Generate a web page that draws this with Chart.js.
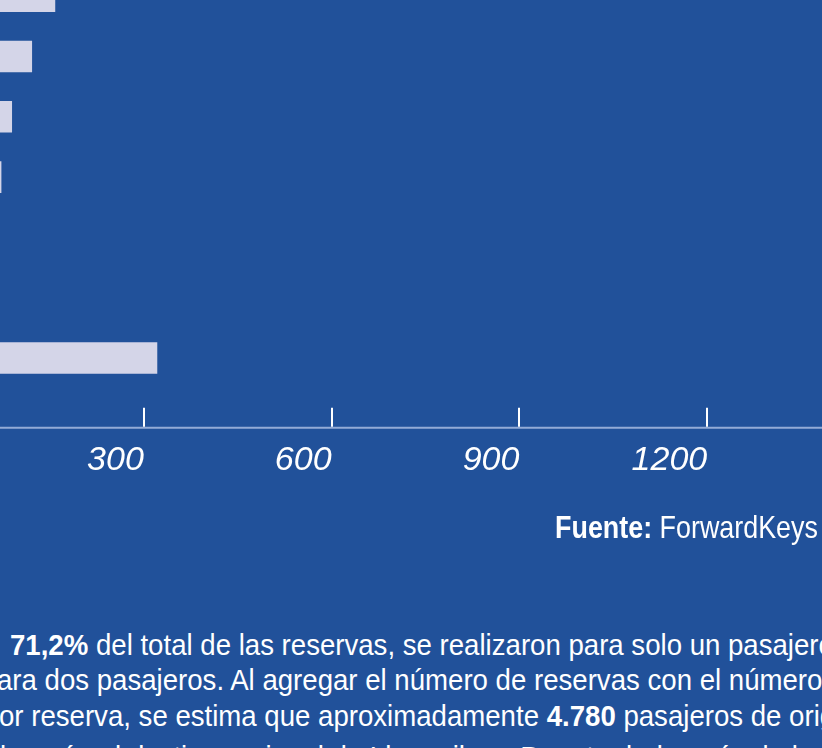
<!DOCTYPE html>
<html>
<head>
<meta charset="utf-8">
<script src="https://cdn.jsdelivr.net/npm/chart.js@4"></script>
<style>
  html, body { margin: 0; padding: 0; }
  body {
    width: 822px; height: 748px; overflow: hidden; position: relative;
    background: #21519a; color: #fff;
    font-family: 'Liberation Sans', Arial, sans-serif;
  }
  #chart { position: absolute; left: -44px; top: -34px; }
  .fuente {
    position: absolute; right: 4px; top: 511px; font-size: 32px; line-height: 32px;
    white-space: nowrap; transform: scaleX(0.84); transform-origin: right center;
  }
  .linea {
    position: absolute; font-size: 30px; line-height: 35px; white-space: nowrap;
    transform: scaleX(0.92); transform-origin: left center;
  }
  .pre { position: absolute; right: 100%; }
</style>
</head>
<body>
<canvas id="chart" width="939" height="567"></canvas>

<div class="fuente"><b>Fuente:</b> ForwardKeys</div>

<div class="linea" style="left:10px; top:627px;"><span class="pre" style="margin-right:4px;">El&nbsp;</span><b>71,2%</b> del total de las reservas, se realizaron para solo un pasajero, y</div>
<div class="linea" style="left:-3px; top:662px;"><span class="pre">un 17,5% p</span>ara dos pasajeros. Al agregar el número de reservas con el número</div>
<div class="linea" style="left:-1px; top:698px;"><span class="pre">de pasajeros p</span>or reserva, se estima que aproximadamente <b>4.780</b> pasajeros de origen</div>
<div class="linea" style="left:0px; top:739px;"><span class="pre">extranjero l</span>legarán al destino regional de Llanquihue. Por otro lado, más de la mitad de los pasajeros llegará</div>

<script>
    // reservas por categoría (de arriba hacia abajo)
    const categorias = ['Cat. 1', 'Cat. 2', 'Cat. 3', 'Cat. 4', 'Cat. 5', 'Cat. 6', 'Cat. 7'];
    const valores = [158, 121, 89, 72, 45, 30, 321];
    const ticksEje = [300, 600, 900, 1200];

    // eje con marcas hacia arriba, separado un poco de las barras
    const ejePlugin = {
        id: 'eje',
        afterDraw(chart) {
            const ctx = chart.ctx;
            const area = chart.chartArea;
            const x = chart.scales.x;
            const yEje = area.bottom + 39.5;
            ctx.save();
            ctx.strokeStyle = '#93abd6';
            ctx.lineWidth = 2;
            ctx.beginPath();
            ctx.moveTo(area.left, yEje);
            ctx.lineTo(area.right, yEje);
            ctx.stroke();
            ctx.strokeStyle = '#ffffff';
            x.ticks.forEach(t => {
                const px = Math.round(x.getPixelForValue(t.value));
                ctx.beginPath();
                ctx.moveTo(px, yEje - 1);
                ctx.lineTo(px, yEje - 20);
                ctx.stroke();
            });
            ctx.restore();
        }
    };

    const ctx = document.getElementById('chart').getContext('2d');
    new Chart(ctx, {
        type: 'bar',
        data: {
            labels: categorias,
            datasets: [{
                data: valores,
                backgroundColor: '#d4d5e8',
                borderWidth: 0,
                barThickness: 31
            }]
        },
        options: {
            indexAxis: 'y',
            responsive: false,
            animation: false,
            devicePixelRatio: 1,
            layout: { padding: 0 },
            plugins: {
                legend: { display: false },
                tooltip: { enabled: false }
            },
            scales: {
                y: { display: false },
                x: {
                    min: 0,
                    max: 1500,
                    afterBuildTicks: s => {
                        s.ticks = ticksEje.map(v => ({ value: v }));
                    },
                    grid: { display: false, drawTicks: false },
                    border: { display: false },
                    ticks: {
                        align: 'end',
                        padding: 52,
                        color: '#ffffff',
                        callback: v => String(v),
                        font: { family: "'Liberation Sans', Arial, sans-serif", size: 34, style: 'italic' }
                    }
                }
            }
        },
        plugins: [ejePlugin]
    });
</script>
</body>
</html>
